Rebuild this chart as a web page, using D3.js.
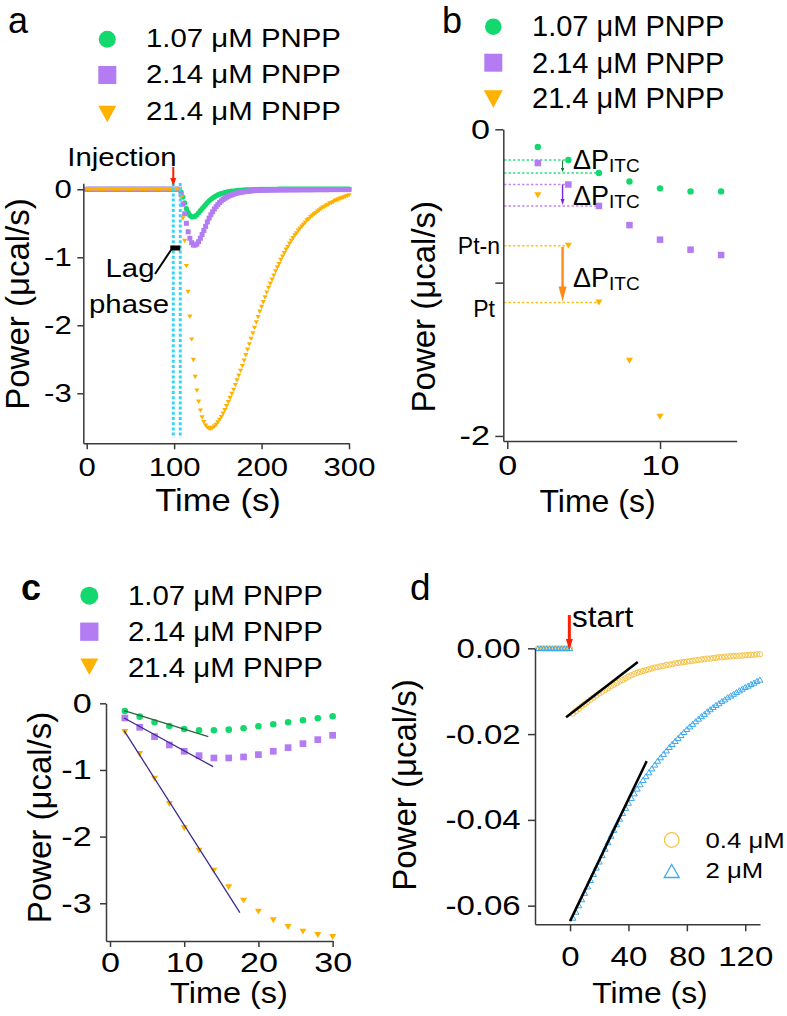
<!DOCTYPE html>
<html><head><meta charset="utf-8">
<script src="https://cdn.jsdelivr.net/npm/d3@7"></script>
<style>
body{margin:0;background:#fff}
svg{display:block}
text{font-family:"Liberation Sans",Arial,sans-serif;fill:#000}
</style>
</head><body>
<svg id="fig" width="787" height="1016"></svg>
<script>
// ---------------- DATA ----------------
const seriesNames = ["1.07 μM PNPP", "2.14 μM PNPP", "21.4 μM PNPP"];

// Panel a: full trace, sampled every 2 s from 0 to 300 s
const aTime = d3.range(0, 301, 2);
const aGreen = [
0,0,0,0,0,0,0,0,0,0, 0,0,0,0,0,0,0,0,0,0, 0,0,0,0,0,0,0,0,0,0, 0,0,0,0,0,0,0,0,0,0, 0,0,0,0,0,0,0,0,0,0, 0,0,0,0,
-0.04,-0.115,-0.2,-0.285,-0.34,-0.385,-0.405,-0.405,-0.395,-0.375,
-0.345,-0.315,-0.285,-0.255,-0.225,-0.195,-0.17,-0.148,-0.128,-0.111,
-0.096,-0.083,-0.072,-0.063,-0.055,-0.048,-0.042,-0.037,-0.032,-0.028,
-0.025,-0.022,-0.019,-0.017,-0.015,-0.013,-0.011,-0.010,-0.009,-0.008,
-0.007,-0.006,-0.005,-0.004,-0.003,-0.002,-0.001,0,0,0,
0,0,0,0,0,0,0.001,0.001,0.001,0.001,
0.001,0.001,0.001,0.001,0.002,0.002,0.002,0.002,0.002,0.002,
0.002,0.002,0.002,0.002,0.003,0.003,0.003,0.003,0.003,0.003,
0.003,0.003,0.003,0.003,0.003,0.003,0.003,0.003,0.003,0.003,
0.003,0.003,0.003,0.003,0.003,0.003,0.003];
const aPurple = [
0,0,0,0,0,0,0,0,0,0, 0,0,0,0,0,0,0,0,0,0, 0,0,0,0,0,0,0,0,0,0, 0,0,0,0,0,0,0,0,0,0, 0,0,0,0,0,0,0,0,0,0, 0,0,0,0,
-0.08,-0.22,-0.36,-0.5,-0.625,-0.72,-0.785,-0.82,-0.82,-0.805,
-0.77,-0.72,-0.665,-0.605,-0.545,-0.48,-0.425,-0.375,-0.33,-0.29,
-0.255,-0.223,-0.195,-0.171,-0.15,-0.132,-0.116,-0.102,-0.09,-0.08,
-0.071,-0.063,-0.056,-0.05,-0.045,-0.04,-0.036,-0.032,-0.029,-0.026,
-0.023,-0.021,-0.019,-0.017,-0.015,-0.014,-0.013,-0.012,-0.012,-0.011,
-0.011,-0.010,-0.010,-0.010,-0.009,-0.009,-0.009,-0.008,-0.008,-0.008,
-0.008,-0.008,-0.007,-0.007,-0.007,-0.007,-0.007,-0.007,-0.006,-0.006,
-0.006,-0.006,-0.006,-0.006,-0.006,-0.006,-0.005,-0.005,-0.005,-0.005,
-0.005,-0.005,-0.005,-0.005,-0.005,-0.004,-0.004,-0.004,-0.004,-0.004,
-0.004,-0.004,-0.004,-0.004,-0.004,-0.004,-0.004];
const aOrange = [
0,0,0,0,0,0,0,0,0,0, 0,0,0,0,0,0,0,0,0,0, 0,0,0,0,0,0,0,0,0,0, 0,0,0,0,0,0,0,0,0,0, 0,0,0,0,0,0,0,0,0,0, 0,0,0,0,
-0.12,-0.43,-0.76,-1.13,-1.51,-1.875,-2.21,-2.51,-2.76,-2.96,
-3.125,-3.255,-3.355,-3.425,-3.475,-3.505,-3.52,-3.52,-3.51,-3.49,
-3.465,-3.43,-3.39,-3.35,-3.30,-3.25,-3.19,-3.13,-3.07,-3.01,
-2.95,-2.88,-2.81,-2.74,-2.67,-2.60,-2.52,-2.44,-2.36,-2.28,
-2.20,-2.12,-2.04,-1.96,-1.88,-1.80,-1.73,-1.66,-1.59,-1.52,
-1.45,-1.39,-1.33,-1.27,-1.21,-1.15,-1.10,-1.04,-0.99,-0.94,
-0.89,-0.85,-0.80,-0.76,-0.72,-0.68,-0.65,-0.61,-0.58,-0.55,
-0.52,-0.49,-0.46,-0.44,-0.41,-0.39,-0.37,-0.35,-0.33,-0.31,
-0.29,-0.27,-0.26,-0.24,-0.23,-0.21,-0.20,-0.19,-0.17,-0.16,
-0.15,-0.14,-0.13,-0.12,-0.11,-0.10,-0.09];
const injectionT = 99, lagEndT = 107;

// Panels b & c: first 30 s after the lag phase
const cTime = [2,4,6,8,10,12,14,16,18,20,22,24,26,28,30];
const cGreen = [-0.115,-0.2,-0.285,-0.34,-0.385,-0.405,-0.405,-0.395,-0.375,-0.345,-0.315,-0.285,-0.255,-0.225,-0.195];
const cPurple = [-0.22,-0.36,-0.5,-0.625,-0.72,-0.785,-0.82,-0.82,-0.805,-0.77,-0.72,-0.665,-0.605,-0.545,-0.48];
const cOrange = [-0.43,-0.76,-1.13,-1.51,-1.875,-2.21,-2.51,-2.76,-2.96,-3.125,-3.255,-3.355,-3.425,-3.475,-3.505];
const cFitX0 = [1.9, 1.9, 1.9], cFitY0 = [-0.11, -0.22, -0.41];
const cFitX1 = [13.25, 13.9, 17.5], cFitY1 = [-0.5, -0.95, -3.14];

// Panel d
const dNames = ["0.4 μM", "2 μM"];
const dPreTime = [-22,-20,-18,-16,-14,-12,-10,-8,-6,-4,-2,0];
const dPreOrange = [0,0,0,0,0,0,0,0,0,0,0,0];
const dPreBlue = [0,0,0,0,0,0,0,0,0,0,0,0];
const dTime = d3.range(2, 131, 2);
const dOrange = [
-0.0152,-0.0146,-0.0141,-0.0135,-0.0130,-0.0125,-0.0120,-0.0115,-0.0110,-0.0105,
-0.0101,-0.0097,-0.0093,-0.0089,-0.0085,-0.0081,-0.0077,-0.0074,-0.0070,-0.0066,
-0.0063,-0.0060,-0.0057,-0.0055,-0.0053,-0.0051,-0.0049,-0.0047,-0.0045,-0.0044,
-0.0042,-0.0041,-0.0039,-0.0038,-0.0037,-0.0035,-0.0034,-0.0033,-0.0032,-0.0031,
-0.0030,-0.0029,-0.0028,-0.0027,-0.0026,-0.0025,-0.0024,-0.0024,-0.0023,-0.0022,
-0.0021,-0.0021,-0.0020,-0.0019,-0.0019,-0.0018,-0.0018,-0.0017,-0.0017,-0.0016,
-0.0016,-0.0015,-0.0015,-0.0014,-0.0014];
const dBlue = [
-0.0628,-0.0614,-0.0599,-0.0585,-0.0570,-0.0555,-0.0540,-0.0526,-0.0511,-0.0497,
-0.0482,-0.0467,-0.0452,-0.0437,-0.0423,-0.0410,-0.0397,-0.0384,-0.0372,-0.0360,
-0.0349,-0.0338,-0.0327,-0.0317,-0.0307,-0.0298,-0.0289,-0.0280,-0.0271,-0.0262,
-0.0254,-0.0246,-0.0238,-0.0230,-0.0223,-0.0216,-0.0209,-0.0202,-0.0195,-0.0188,
-0.0182,-0.0176,-0.0170,-0.0164,-0.0158,-0.0153,-0.0147,-0.0142,-0.0137,-0.0132,
-0.0128,-0.0123,-0.0119,-0.0114,-0.0110,-0.0106,-0.0102,-0.0098,-0.0094,-0.0090,
-0.0087,-0.0083,-0.0080,-0.0076,-0.0073];
const dFitX0 = [-2.7, 0], dFitY0 = [-0.0161, -0.0636];
const dFitX1 = [46.4, 52.5], dFitY1 = [-0.0032, -0.0263];

// ---------------- STYLE ----------------
const GREEN = "#12d86e", PURPLE = "#b37cf3", ORANGE = "#ffb100";
const DORANGE = "#f5c343", DBLUE = "#3aa8f2", CYAN = "#36d6f6", RED = "#ff1e00";
const AX = "#3a3a3a";

const svg = d3.select("#fig");

function txt(x, y, s, o = {}) {
  const t = svg.append("text")
    .attr("transform", `translate(${x},${y}) scale(${o.sx || 1},1)`)
    .attr("text-anchor", o.anchor || "start")
    .style("font-size", (o.size || 26) + "px");
  if (o.weight) t.style("font-weight", o.weight);
  if (o.fill) t.style("fill", o.fill);
  t.text(s);
  return t;
}
function ylab(x, y, s, size) {
  svg.append("text").attr("transform", `translate(${x},${y}) rotate(-90)`)
    .attr("text-anchor", "middle").style("font-size", size + "px").text(s);
}
function drawAxis(axis, x, y, sx, size) {
  const g = svg.append("g").attr("transform", `translate(${x},${y})`).call(axis);
  g.select(".domain").attr("stroke", AX).attr("stroke-width", 1.5);
  g.selectAll(".tick line").attr("stroke", AX).attr("stroke-width", 1.5);
  g.selectAll(".tick text").style("font-size", size + "px")
    .style("font-family", "'Liberation Sans', Arial, sans-serif")
    .attr("fill", "#000").attr("transform", `scale(${sx},1)`);
  return g;
}
function triPath(cx, cy, w, h, down) {
  return down
    ? `M${cx - w / 2},${cy - h / 2}L${cx + w / 2},${cy - h / 2}L${cx},${cy + h / 2}Z`
    : `M${cx - w / 2},${cy + h / 2}L${cx + w / 2},${cy + h / 2}L${cx},${cy - h / 2}Z`;
}
function markers(xs, ys, x, y, kind, color, sz, filterFn) {
  const g = svg.append("g");
  const pts = xs.map((t, i) => [t, ys[i]]).filter(p => p[1] !== null && (!filterFn || filterFn(p)));
  pts.forEach(p => {
    const cx = x(p[0]), cy = y(p[1]);
    if (kind === "circle") g.append("circle").attr("cx", cx).attr("cy", cy).attr("r", sz).attr("fill", color);
    else if (kind === "square") g.append("rect").attr("x", cx - sz / 2).attr("y", cy - sz / 2).attr("width", sz).attr("height", sz).attr("fill", color);
    else if (kind === "tri") g.append("path").attr("d", triPath(cx, cy, sz, sz * 0.85, true)).attr("fill", color);
    else if (kind === "ocircle") g.append("circle").attr("cx", cx).attr("cy", cy).attr("r", sz).attr("fill", "none").attr("stroke", color).attr("stroke-width", 1);
    else if (kind === "otri") g.append("path").attr("d", triPath(cx, cy, sz, sz * 0.85, false)).attr("fill", "none").attr("stroke", color).attr("stroke-width", 1);
  });
}
function vArrow(x, y1, y2, color, w, hw, hl) {
  svg.append("line").attr("x1", x).attr("x2", x).attr("y1", y1).attr("y2", y2 - hl + 1)
    .attr("stroke", color).attr("stroke-width", w);
  svg.append("path").attr("d", `M${x - hw / 2},${y2 - hl}L${x + hw / 2},${y2 - hl}L${x},${y2}Z`).attr("fill", color);
}
function legend(mx, ys, tx, bases, size, sx, r, sq, tw) {
  svg.append("circle").attr("cx", mx).attr("cy", ys[0]).attr("r", r).attr("fill", GREEN);
  svg.append("rect").attr("x", mx - sq / 2).attr("y", ys[1] - sq / 2).attr("width", sq).attr("height", sq).attr("fill", PURPLE);
  svg.append("path").attr("d", triPath(mx, ys[2], tw, tw * 0.92, true)).attr("fill", ORANGE);
  seriesNames.forEach((n, i) => txt(tx, bases[i], n, { size: size, sx: sx }));
}
const fmt = d => String(d);

// ---------------- PANEL A ----------------
const xA = d3.scaleLinear().domain([-3.9, 300]).range([83.3, 349]);
const yA = d3.scaleLinear().domain([0.088, -3.735]).range([183.3, 443.3]);
txt(8, 33, "a", { size: 36 });
legend(107.3, [39.3, 75, 114], 146, [46.7, 83.3, 120], 26, 1.13, 8.5, 18, 18);

markers(aTime, aGreen, xA, yA, "circle", GREEN, 2.6);
markers(aTime, aPurple, xA, yA, "square", PURPLE, 5);
markers(aTime, aOrange, xA, yA, "tri", ORANGE, 5.2);

drawAxis(d3.axisLeft(yA).tickValues([0, -1, -2, -3]).tickFormat(fmt).tickSize(6).tickSizeOuter(0).tickPadding(3.5), 83.3, 0, 1.22, 25.5);
drawAxis(d3.axisBottom(xA).tickValues([0, 100, 200, 300]).tickFormat(fmt).tickSize(6).tickSizeOuter(0).tickPadding(9), 0, 443.3, 1.22, 25.5);

[injectionT, lagEndT].forEach(t => {
  svg.append("line").attr("x1", xA(t)).attr("x2", xA(t)).attr("y1", 183).attr("y2", 438)
    .attr("stroke", CYAN).attr("stroke-width", 3).attr("stroke-dasharray", "3,2.2");
});
vArrow(xA(injectionT), 167, 186, RED, 2, 6, 8);
txt(122, 166, "Injection", { size: 26, sx: 1.13, anchor: "middle" });
// lag phase marker
svg.append("line").attr("x1", 155).attr("y1", 274).attr("x2", 171).attr("y2", 250).attr("stroke", "#000").attr("stroke-width", 2);
svg.append("rect").attr("x", xA(injectionT) - 3).attr("y", 245.5).attr("width", xA(lagEndT) - xA(injectionT) + 3).attr("height", 5).attr("fill", "#000");
txt(130, 277, "Lag", { size: 26, sx: 1.13, anchor: "middle" });
txt(129, 313, "phase", { size: 26, sx: 1.13, anchor: "middle" });
ylab(29, 304, "Power (μcal/s)", 33);
txt(218, 511, "Time (s)", { size: 32, sx: 1.08, anchor: "middle" });

// ---------------- PANEL B ----------------
const xB = d3.scaleLinear().domain([-0.26, 15.02]).range([503.3, 736.7]);
const yB = d3.scaleLinear().domain([0, -2.033]).range([129.3, 441]);
txt(442, 33, "b", { size: 36 });
legend(493.3, [26.7, 62.7, 99], 532, [36, 72.7, 108.3], 29, 1.0, 8.3, 18, 19);

const inB = p => p[0] <= 15 && p[1] >= -2.03;
// dotted guide lines to the points at t = 4 s and t = 6 s
const guides = [[cGreen, "#2fe384"], [cPurple, "#c58af2"], [cOrange, "#ffc21a"]];
guides.forEach(([ys, col]) => {
  [1, 2].forEach(i => {
    svg.append("line").attr("x1", 504).attr("x2", xB(cTime[i]) - 2)
      .attr("y1", yB(ys[i])).attr("y2", yB(ys[i]))
      .attr("stroke", col).attr("stroke-width", 1.6).attr("stroke-dasharray", "2.5,2");
  });
});
markers(cTime, cGreen, xB, yB, "circle", GREEN, 3.2, inB);
markers(cTime, cPurple, xB, yB, "square", PURPLE, 6.5, inB);
markers(cTime, cOrange, xB, yB, "tri", ORANGE, 7, inB);

const arrX = xB(3.62);
vArrow(arrX, yB(cGreen[1]) + 0.5, yB(cGreen[2]) - 1, "#1d6a36", 1, 3.5, 4);
vArrow(arrX, yB(cPurple[1]), yB(cPurple[2]) - 1, "#7b22e8", 1.4, 4, 6);
vArrow(arrX, yB(cOrange[1]) + 1, yB(cOrange[2]) - 1, "#ff8a1a", 2.4, 8, 15);

function dP(x, y) {
  const t = svg.append("text").attr("x", x).attr("y", y).style("font-size", "27px");
  t.append("tspan").text("ΔP");
  t.append("tspan").attr("dy", 3).style("font-size", "19px").text("ITC");
}
dP(573, 169);
dP(573, 205);
dP(573, 287);
txt(500, 253.5, "Pt-n", { size: 23, anchor: "end" });
txt(495, 316.5, "Pt", { size: 23, anchor: "end" });

drawAxis(d3.axisLeft(yB).tickValues([0, -1, -2]).tickFormat(d => d === -1 ? "" : String(d)).tickSize(8).tickSizeOuter(0).tickPadding(3), 503.3, 0, 1.22, 28);
drawAxis(d3.axisBottom(xB).tickValues([0, 10]).tickFormat(fmt).tickSize(8).tickSizeOuter(0).tickPadding(6), 0, 441, 1.22, 28);
ylab(435, 306.7, "Power (μcal/s)", 33);
txt(597.5, 512, "Time (s)", { size: 32, sx: 1.0, anchor: "middle" });

// ---------------- PANEL C ----------------
const xC = d3.scaleLinear().domain([-0.54, 30.05]).range([106, 333]);
const yC = d3.scaleLinear().domain([0, -3.566]).range([703.3, 941]);
txt(21, 600, "c", { size: 36, weight: "bold" });
legend(89.3, [595.7, 631.7, 666.7], 128, [605, 640.7, 676.7], 28, 1.05, 9, 18.3, 18);

markers(cTime, cGreen, xC, yC, "circle", GREEN, 3.3);
markers(cTime, cPurple, xC, yC, "square", PURPLE, 6.7);
markers(cTime, cOrange, xC, yC, "tri", ORANGE, 7);
const fitCols = ["#2f5f3e", "#3d2c8d", "#3d2c8d"];
cFitX0.forEach((_, i) => {
  svg.append("line").attr("x1", xC(cFitX0[i])).attr("y1", yC(cFitY0[i]))
    .attr("x2", xC(cFitX1[i])).attr("y2", yC(cFitY1[i]))
    .attr("stroke", fitCols[i]).attr("stroke-width", 1.3);
});
drawAxis(d3.axisLeft(yC).tickValues([0, -1, -2, -3]).tickFormat(fmt).tickSize(6).tickSizeOuter(0).tickPadding(5.7), 106, 0, 1.22, 28);
drawAxis(d3.axisBottom(xC).tickValues([0, 10, 20, 30]).tickFormat(fmt).tickSize(6).tickSizeOuter(0).tickPadding(4.7), 0, 941, 1.22, 28);
ylab(51, 817.5, "Power (μcal/s)", 33);
txt(229, 1003, "Time (s)", { size: 29, sx: 1.12, anchor: "middle" });

// ---------------- PANEL D ----------------
const xD = d3.scaleLinear().domain([-24, 130.1]).range([535, 760]);
const yD = d3.scaleLinear().domain([0, -0.06434]).range([648.3, 924.3]);
txt(410, 600, "d", { size: 37 });

markers(dPreTime, dPreOrange, xD, yD, "ocircle", DORANGE, 2.6);
markers(dPreTime, dPreBlue, xD, yD, "otri", DBLUE, 5.5);
markers(dTime, dOrange, xD, yD, "ocircle", DORANGE, 2.7);
markers(dTime, dBlue, xD, yD, "otri", DBLUE, 6);
dFitX0.forEach((_, i) => {
  svg.append("line").attr("x1", xD(dFitX0[i])).attr("y1", yD(dFitY0[i]))
    .attr("x2", xD(dFitX1[i])).attr("y2", yD(dFitY1[i]))
    .attr("stroke", "#000").attr("stroke-width", 2.5);
});
vArrow(xD(0) - 0.7, 615, 650, RED, 3, 7, 11);
txt(572, 626.5, "start", { size: 30, sx: 1.05 });

drawAxis(d3.axisLeft(yD).tickValues([0, -0.02, -0.04, -0.06]).tickFormat(d => d.toFixed(2)).tickSize(7).tickSizeOuter(0).tickPadding(5.1), 535, 0, 1.18, 28);
drawAxis(d3.axisBottom(xD).tickValues([0, 40, 80, 120]).tickFormat(fmt).tickSize(7).tickSizeOuter(0).tickPadding(15), 0, 924.3, 1.18, 28);
ylab(416, 785, "Power (μcal/s)", 33);
txt(650, 1003, "Time (s)", { size: 30, sx: 1.06, anchor: "middle" });

// legend d
svg.append("circle").attr("cx", 671.7).attr("cy", 840).attr("r", 7.3).attr("fill", "none").attr("stroke", DORANGE).attr("stroke-width", 1.3);
svg.append("path").attr("d", triPath(671.7, 871, 15, 13, false)).attr("fill", "none").attr("stroke", DBLUE).attr("stroke-width", 1.3);
txt(705.5, 848.3, dNames[0], { size: 23, sx: 1.12 });
txt(705.5, 878.3, dNames[1], { size: 23, sx: 1.12 });
</script>
</body></html>
